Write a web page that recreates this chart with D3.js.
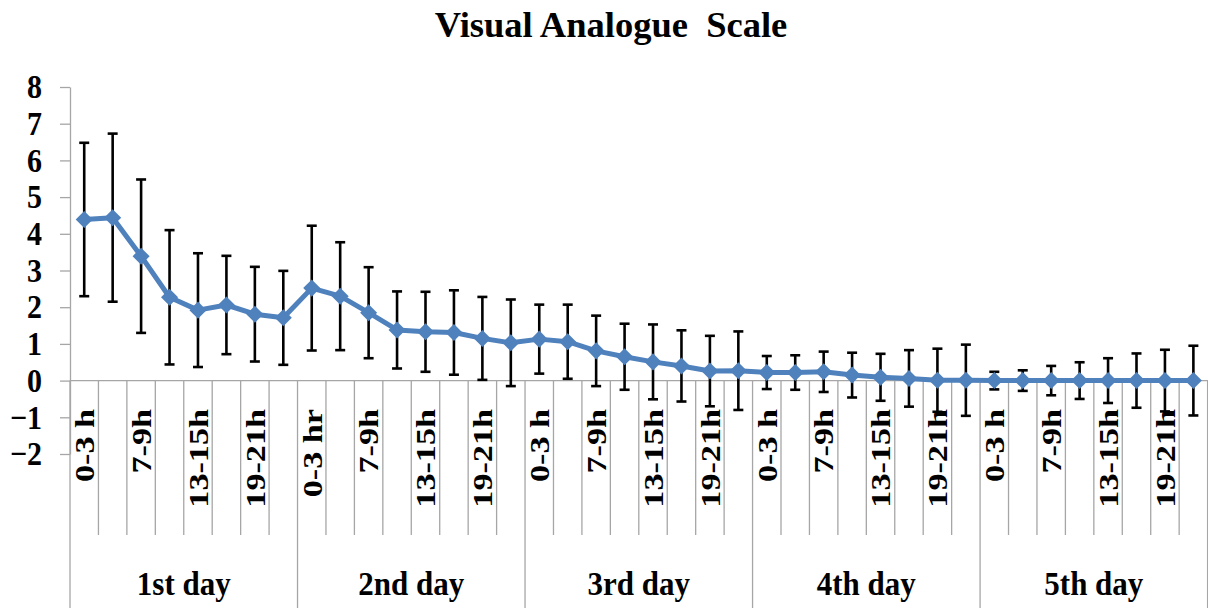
<!DOCTYPE html>
<html>
<head>
<meta charset="utf-8">
<script src="https://cdn.jsdelivr.net/npm/d3@7"></script>
<style>
  body { margin: 0; background: #fff; }
  text { font-family: "Liberation Serif", "Times New Roman", serif; font-weight: bold; }
</style>
</head>
<body>
<div id="chart"></div>
<script>
const days = ["1st day", "2nd day", "3rd day", "4th day", "5th day"];

// tick labels, one per category (Excel only printed every other one)
const timeLabels = [
  "0-3 h", "", "7-9h", "", "13-15h", "", "19-21h", "",
  "0-3 hr", "", "7-9h", "", "13-15h", "", "19-21h", "",
  "0-3 h", "", "7-9h", "", "13-15h", "", "19-21h", "",
  "0-3 h", "", "7-9h", "", "13-15h", "", "19-21h", "",
  "0-3 h", "", "7-9h", "", "13-15h", "", "19-21h", ""
];

const means = [
  4.39, 4.44, 3.39, 2.27, 1.92, 2.06, 1.81, 1.71,
  2.52, 2.30, 1.85, 1.38, 1.33, 1.31, 1.15, 1.03,
  1.13, 1.06, 0.81, 0.65, 0.51, 0.40, 0.26, 0.27,
  0.22, 0.22, 0.24, 0.15, 0.09, 0.06, 0.01, 0.01,
  0, 0, 0, 0, 0, 0, 0, 0
];

const sds = [
  2.09, 2.29, 2.09, 1.83, 1.55, 1.34, 1.29, 1.28,
  1.70, 1.47, 1.24, 1.05, 1.09, 1.15, 1.13, 1.18,
  0.94, 1.01, 0.96, 0.90, 1.02, 0.97, 0.96, 1.07,
  0.45, 0.47, 0.55, 0.61, 0.64, 0.77, 0.86, 0.97,
  0.24, 0.28, 0.40, 0.50, 0.61, 0.74, 0.84, 0.95
];

const yTicks = [-2, -1, 0, 1, 2, 3, 4, 5, 6, 7, 8];

const data = means.map((m, i) => ({i: i, mean: m, sd: sds[i], label: timeLabels[i]}));

const width = 1208, height = 608;
const margins = {top: 87, left: 70, right: 0.4, bottom: 154};
const perDay = 8;

const svg = d3.select("#chart")
  .append("svg")
  .attr("width", width)
  .attr("height", height);

// scales
const xScale = d3.scaleBand()
  .domain(d3.range(means.length))
  .range([margins.left, width - margins.right])
  .padding(0);

const yScale = d3.scaleLinear()
  .domain([d3.min(yTicks), d3.max(yTicks)])
  .range([height - margins.bottom, margins.top]);

const bw = xScale.bandwidth();
const y0 = yScale(0);
const axisColor = "#a6a6a6";

// title
svg.append("text")
  .attr("x", 611)
  .attr("y", 37)
  .attr("text-anchor", "middle")
  .style("font-size", "36.5px")
  .style("white-space", "pre")
  .text("Visual Analogue  Scale");

// y axis
const yAxis = d3.axisLeft(yScale)
  .tickValues(yTicks)
  .tickSize(10)
  .tickSizeOuter(0)
  .tickPadding(18)
  .tickFormat(d3.format("d"));

const gy = svg.append("g")
  .attr("transform", `translate(${margins.left},0)`)
  .call(yAxis);
gy.selectAll("path, line").attr("stroke", axisColor).attr("stroke-width", 1.3);
gy.selectAll("text")
  .attr("fill", "#000")
  .attr("transform", "scale(1,1.12)")
  .attr("y", function() { return 0; })
  .style("font-size", "30px")
  .style("font-family", "'Liberation Serif', serif")
  .style("font-weight", "bold");

// horizontal category axis at zero
svg.append("line")
  .attr("x1", margins.left).attr("x2", width)
  .attr("y1", y0).attr("y2", y0)
  .attr("stroke", axisColor).attr("stroke-width", 1.3);

// category separators: short ones for time slots, long ones for days
const bounds = d3.range(means.length + 1);
svg.selectAll("line.sep")
  .data(bounds)
  .join("line")
    .attr("class", "sep")
    .attr("x1", i => i < means.length ? xScale(i) : xScale(i - 1) + bw)
    .attr("x2", i => i < means.length ? xScale(i) : xScale(i - 1) + bw)
    .attr("y1", y0)
    .attr("y2", i => i % perDay === 0 ? height : 535)
    .attr("stroke", axisColor)
    .attr("stroke-width", 1.3);

// time slot labels, rotated (stretched along their length like the original)
svg.selectAll("text.tlabel")
  .data(data.filter(d => d.label !== ""))
  .join("text")
    .attr("class", "tlabel")
    .attr("transform", d => `translate(${xScale(d.i) + bw / 2},409) rotate(-90) scale(1.22,1)`)
    .attr("text-anchor", "end")
    .attr("dy", "0.35em")
    .style("font-size", "28px")
    .text(d => d.label);

// day labels
svg.selectAll("text.day")
  .data(days)
  .join("text")
    .attr("class", "day")
    .attr("transform", (d, k) => `translate(${xScale(k * perDay) + bw * perDay / 2},595) scale(1,1.08)`)
    .attr("text-anchor", "middle")
    .style("font-size", "31px")
    .text(d => d);

// error bars
const eb = svg.append("g").attr("stroke", "#000").attr("stroke-width", 2.6);
eb.selectAll("line.bar")
  .data(data)
  .join("line")
    .attr("x1", d => xScale(d.i) + bw / 2)
    .attr("x2", d => xScale(d.i) + bw / 2)
    .attr("y1", d => yScale(d.mean + d.sd))
    .attr("y2", d => yScale(d.mean - d.sd));
eb.selectAll("line.capt")
  .data(data)
  .join("line")
    .attr("x1", d => xScale(d.i) + bw / 2 - 5)
    .attr("x2", d => xScale(d.i) + bw / 2 + 5)
    .attr("y1", d => yScale(d.mean + d.sd))
    .attr("y2", d => yScale(d.mean + d.sd));
eb.selectAll("line.capb")
  .data(data)
  .join("line")
    .attr("x1", d => xScale(d.i) + bw / 2 - 5)
    .attr("x2", d => xScale(d.i) + bw / 2 + 5)
    .attr("y1", d => yScale(d.mean - d.sd))
    .attr("y2", d => yScale(d.mean - d.sd));

// mean line
const line = d3.line()
  .x(d => xScale(d.i) + bw / 2)
  .y(d => yScale(d.mean));

svg.append("path")
  .datum(data)
  .attr("d", line)
  .attr("fill", "none")
  .attr("stroke", "#4f81bd")
  .attr("stroke-width", 5)
  .attr("stroke-linejoin", "round");

// diamond markers
const diamond = d3.symbol().type(d3.symbolDiamond2).size(185);
svg.selectAll("path.marker")
  .data(data)
  .join("path")
    .attr("class", "marker")
    .attr("d", diamond)
    .attr("transform", d => `translate(${xScale(d.i) + bw / 2},${yScale(d.mean)})`)
    .attr("fill", "#4f81bd");
</script>
</body>
</html>
